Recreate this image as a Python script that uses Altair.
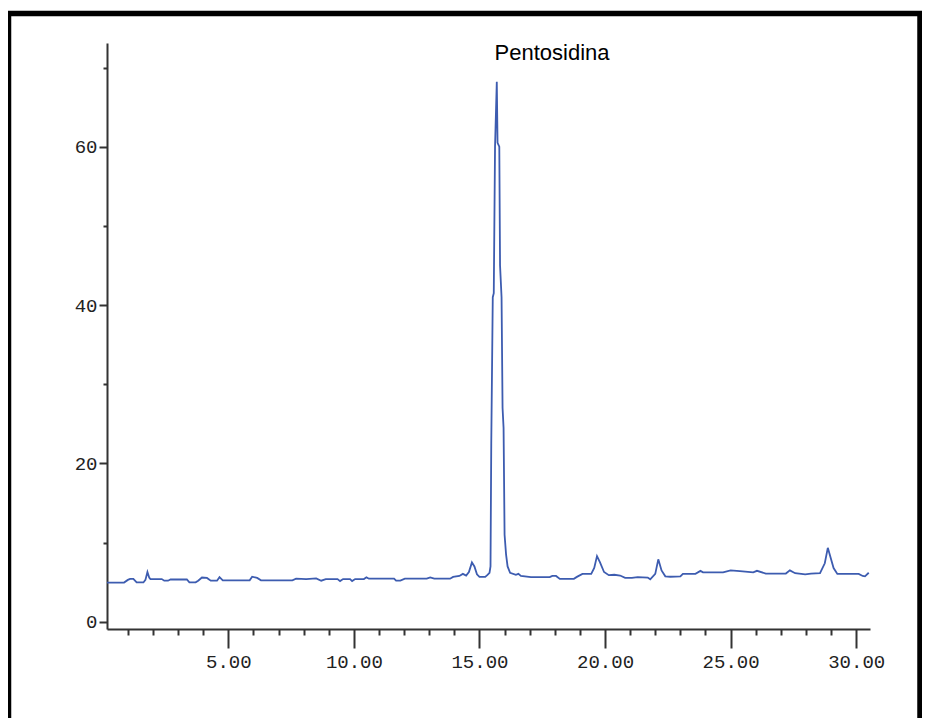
import altair as alt
import pandas as pd

# Retention time (min) and detector signal
time = [0.17, 0.85, 1.0, 1.09, 1.22, 1.35, 1.62, 1.70, 1.78, 1.85, 1.90, 2.35, 2.45, 2.60, 2.70,
        3.35, 3.45, 3.70, 3.80, 3.95, 4.15, 4.30, 4.55, 4.65, 4.78, 5.85, 5.95, 6.15, 6.30, 7.55,
        7.70, 8.10, 8.50, 8.70, 8.88, 9.35, 9.45, 9.57, 9.85, 9.93, 10.05, 10.40, 10.50, 10.60,
        11.60, 11.68, 11.85, 12.03, 12.90, 13.04, 13.20, 13.83, 13.95, 14.20, 14.34, 14.47, 14.58,
        14.70, 14.80, 14.90, 15.00, 15.23, 15.32, 15.40, 15.44, 15.47, 15.53, 15.57, 15.62, 15.69,
        15.72, 15.79, 15.82, 15.88, 15.92, 15.96, 16.00, 16.06, 16.12, 16.22, 16.45, 16.55, 16.65,
        17.05, 17.80, 17.90, 18.05, 18.20, 18.76,
        18.88, 19.10, 19.45, 19.57, 19.68, 19.80, 19.96, 20.15, 20.37, 20.60, 20.80, 21.07, 21.30,
        21.70, 21.80, 22.00, 22.12, 22.25, 22.40, 22.60, 23.00, 23.10, 23.60, 23.80, 23.90, 24.70,
        25.00, 25.37, 25.90, 26.05, 26.40, 27.20, 27.36, 27.57, 27.97, 28.20, 28.56, 28.75, 28.87,
        29.10, 29.25, 30.10, 30.26, 30.35, 30.50]
signal = [4.96, 4.96, 5.30, 5.43, 5.43, 5.00, 4.98, 5.30, 6.30, 5.60, 5.40, 5.40, 5.20, 5.20, 5.35,
          5.35, 5.00, 5.00, 5.20, 5.60, 5.55, 5.20, 5.20, 5.65, 5.25, 5.25, 5.70, 5.55, 5.25, 5.25,
          5.45, 5.40, 5.50, 5.20, 5.40, 5.40, 5.15, 5.40, 5.40, 5.15, 5.40, 5.40, 5.62, 5.45,
          5.45, 5.20, 5.20, 5.45, 5.45, 5.62, 5.45, 5.45, 5.68, 5.80, 6.06, 5.85, 6.30,
          7.50, 7.00, 6.00, 5.68, 5.68, 5.94, 6.20, 7.0, 22.5, 41.0, 41.5, 60.0, 68.2,
          60.5, 60.0, 45.0, 41.0, 27.0, 24.5, 11.0, 8.5, 7.0, 6.20, 5.94, 6.06, 5.80,
          5.65, 5.65, 5.80, 5.80, 5.43, 5.43,
          5.68, 6.06, 6.06, 6.82, 8.30, 7.50, 6.30, 5.90, 5.95, 5.85, 5.55, 5.55, 5.65,
          5.60, 5.37, 6.06, 7.90, 6.50, 5.75, 5.70, 5.75, 6.06, 6.06, 6.44, 6.25, 6.25,
          6.50, 6.40, 6.25, 6.45, 6.10, 6.10, 6.50, 6.15, 6.00, 6.10, 6.15, 7.40, 9.35,
          6.80, 6.06, 6.06, 5.80, 5.75, 6.20]

x_ticks = list(range(1, 31))
y_ticks = [0, 10, 20, 30, 40, 50, 60, 70]
peak_label = ["Pentosidina"]

df = pd.DataFrame({"time": time, "signal": signal})

AXIS_COLOR = "#333333"
LABEL_FONT = "Liberation Mono"

x_axis = alt.Axis(
    values=x_ticks,
    title=None,
    grid=False,
    domainColor=AXIS_COLOR,
    domainWidth=2,
    tickColor=AXIS_COLOR,
    tickWidth=2,
    tickSize={"condition": {"test": "datum.value % 5 === 0", "value": 19}, "value": 6},
    labelExpr="datum.value % 5 === 0 ? format(datum.value, '.2f') : ''",
    labelFont=LABEL_FONT,
    labelFontSize=19,
    labelColor="#222222",
    labelPadding=4,
    labelFlush=False,
    labelOverlap=False,
)

y_axis = alt.Axis(
    values=y_ticks,
    title=None,
    grid=False,
    domainColor=AXIS_COLOR,
    domainWidth=2,
    tickColor=AXIS_COLOR,
    tickWidth=2,
    tickSize={"condition": {"test": "datum.value % 20 === 0", "value": 8}, "value": 4},
    labelExpr="datum.value % 20 === 0 ? datum.label : ''",
    labelFont=LABEL_FONT,
    labelFontSize=19,
    labelColor="#222222",
    labelPadding=2,
    labelFlush=False,
    labelOverlap=False,
)

line = alt.Chart(df).mark_line(color="#3d5cb0", strokeWidth=1.8).encode(
    x=alt.X("time:Q", scale=alt.Scale(domain=[0.17, 30.55], nice=False, zero=False), axis=x_axis),
    y=alt.Y("signal:Q", scale=alt.Scale(domain=[-0.9, 73.1], nice=False, zero=False), axis=y_axis),
)

label = alt.Chart(pd.DataFrame({"label": peak_label})).mark_text(
    font="Liberation Sans", fontSize=22, color="#000000", align="center", baseline="middle"
).encode(x=alt.value(445), y=alt.value(10), text="label:N")

frame = alt.Chart(pd.DataFrame({"a": [0]})).mark_rect(
    filled=False, stroke="#000000", strokeWidth=5.5
).encode(x=alt.value(-98.5), x2=alt.value(813), y=alt.value(-29.5), y2=alt.value(720))

chart = alt.layer(frame, line, label).properties(
    width=763,
    height=586,
    autosize=alt.AutoSizeParams(type="none"),
    padding={"left": 99, "top": 35, "right": 52, "bottom": 89},
    background="white",
).configure_view(strokeWidth=0)

chart.save("out.html", embed_options={"renderer": "svg", "actions": False})
